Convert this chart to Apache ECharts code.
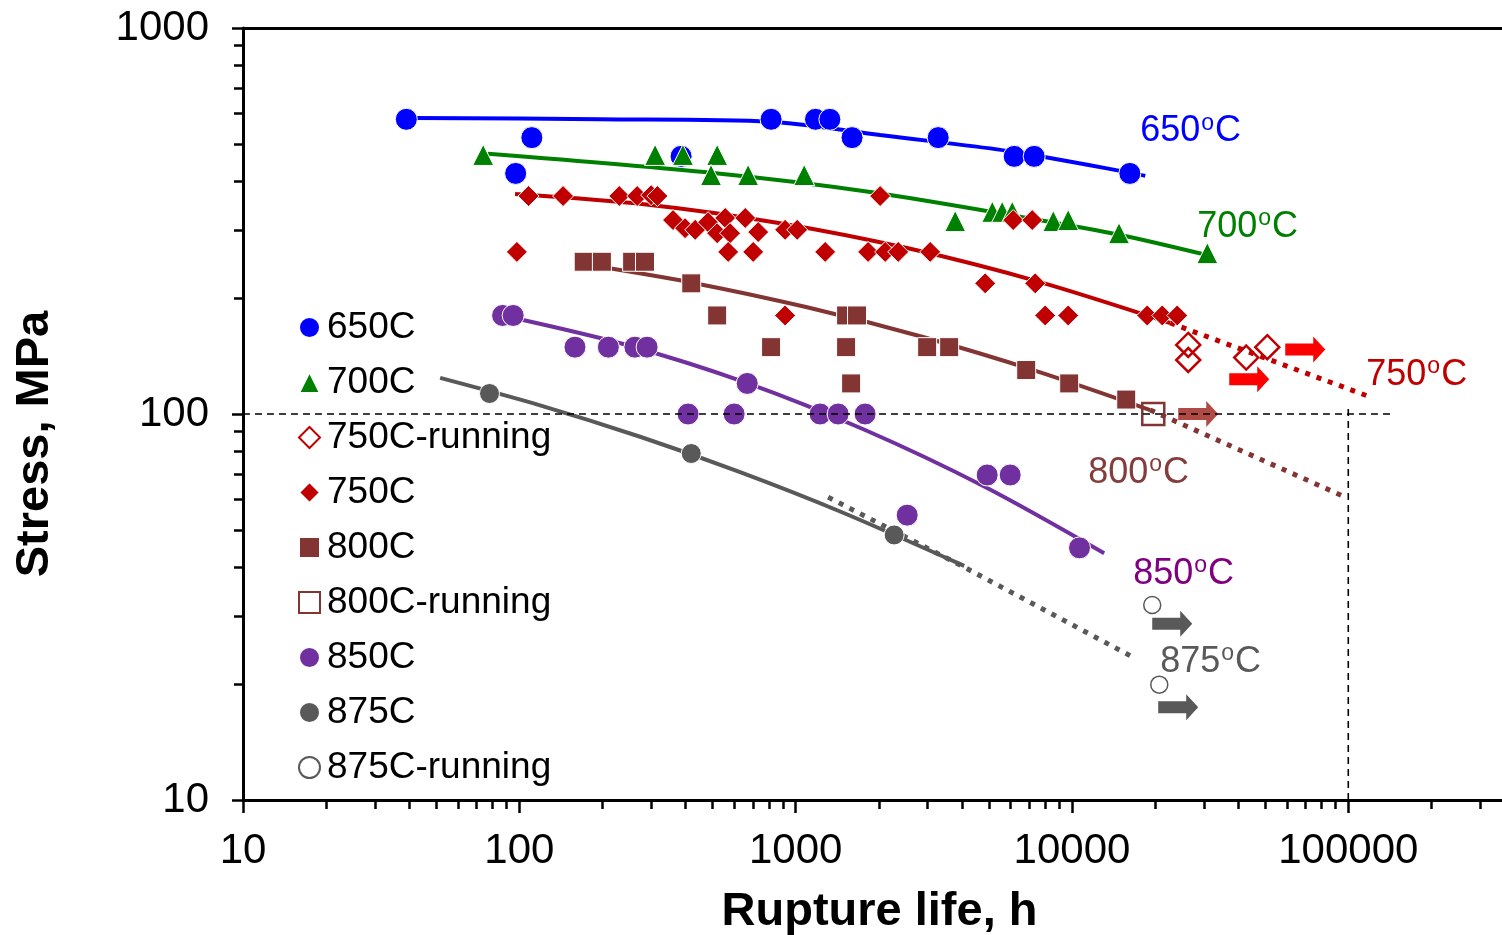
<!DOCTYPE html>
<html><head><meta charset="utf-8">
<script src="https://cdn.jsdelivr.net/npm/echarts@6/dist/echarts.min.js"></script>
<style>html,body{margin:0;padding:0;background:#fff}#c{width:1502px;height:935px}</style>
</head><body><div id="c"></div>
<script>
// ---- tick values ----
const xMajorTicks = [10, 100, 1000, 10000, 100000];
const xMinorTicks = [20,30,40,50,60,70,80,90,200,300,400,500,600,700,800,900,2000,3000,4000,5000,6000,7000,8000,9000,20000,30000,40000,50000,60000,70000,80000,90000,200000,300000];
const yMajorTicks = [10, 100, 1000];
const yMinorTicks = [20,30,40,50,60,70,80,90,200,300,400,500,600,700,800,900];

// ---- data: [rupture life h, stress MPa] ----
const d650 = [[39,580],[111,520],[97,420],[385,465],[815,580],[1180,580],[1330,580],[1600,520],[3280,520],[6180,465],[7300,465],[16200,420]];
const d700 = [[74,469],[310,469],[391,469],[520,469],[494,416],[673,416],[1074,416],[3780,316],[5150,334],[5590,334],[6080,334],[8560,316],[9690,318],[14800,294],[30900,261]];
const d750 = [[108,367],[144,367],[230,367],[267,367],[300,369],[316,367],[360,318],[398,303],[433,300],[482,314],[520,294],[556,322],[579,294],[657,322],[732,296],[916,300],[1013,300],[98,263],[570,263],[702,263],[1279,263],[1829,263],[2109,263],[2351,263],[3068,263],[916,180],[2022,367],[6128,318],[7180,318],[4853,218],[7362,218],[8001,180],[9692,180],[18720,180],[21220,180],[24040,180]];
const d750run = [[26350,151],[26350,138],[42720,140],[50910,149]];
const d800 = [[171,248],[199,248],[256,248],[285,248],[419,218],[520,180],[815,149],[1523,180],[1668,180],[1523,149],[1588,120],[2992,149],[3594,149],[6830,130],[9772,120],[15720,109]];
const d800run = [[19690,100]];
const d850 = [[87,180],[95,180],[159,149],[210,149],[262,149],[290,149],[668,120],[408,100],[599,100],[1226,100],[1425,100],[1784,100],[4934,69.5],[5976,69.5],[2533,54.7],[10650,45]];
const d875 = [[78,113],[419,79],[2273,48.6]];
const d875run = [[19520,32],[20700,19.9]];

// ---- fitted trend lines ----
const fit650 = [[41,585],[196,580],[809,572],[2024,528],[3254,507],[6124,478],[16250,422],[18420,414]];
const fit700 = [[77,472],[503,421],[1862,376],[6890,322],[14960,291],[30900,258]];
const fit750 = [[96.5,371.5],[287.5,349.1],[857,313.1],[2554,268.7],[7610,220],[22680,172.1]];
const ext750 = [[22680,172.1],[120100,110.7]];
const fit800 = [[161.8,246],[421.9,218.9],[1100,189],[2870,158.5],[7484,129],[19200,102.4]];
const ext800 = [[19200,102.4],[97500,60.9]];
const fit850 = [[88.8,179.5],[241.4,151.4],[656.6,120.8],[1784,90.9],[4853,64.7],[13080,43.6]];
const fit875 = [[51.7,124],[118.9,105.3],[273.6,87.3],[629.6,70.7],[1449,55.9],[4074,40.4]];
const ext875 = [[1311,60.9],[4074,40.1],[17080,23.2]];
const refH = [[10,100],[145600,100]];
const refV = [[100000,10],[100000,104]];

// ---- "still running" arrows ----
const arrows750 = [[69870,147],[43810,123]];
const arrows800 = [[28640,100]];
const arrows875 = [[23060,28.6],[24240,17.4]];

const FONT = "'Liberation Sans', Arial, sans-serif";
const C650='#0000FF', C700='#008000', C750='#C00000', C800='#833533', C850='#7030A0', C875='#595959';
const ARROW = 'path://M0,7 L28,7 L28,0 L40,13 L28,26 L28,19 L0,19 Z';

function sc(name, data, symbol, size, color, open, z) {
  return {
    type:'scatter', name, data, symbol, symbolSize:size, z: z||5,
    itemStyle: open ? {color:'rgba(255,255,255,0)', borderColor:color, borderWidth: open, opacity:1} :
                      {color, borderColor:'#fff', borderWidth:1, opacity:1},
    emphasis:{disabled:true}
  };
}
function ln(data, color, width, type) {
  return {type:'line', data, symbol:'none', z:2, silent:true, smooth: type==='solid'?0.3:false,
    lineStyle:{color, width, type: type==='solid' ? 'solid' : type, cap:'butt', opacity:1}};
}
function arr(data, color) {
  return {type:'scatter', data, symbol:ARROW, symbolSize:[40,26], z:4, silent:true, itemStyle:{color, opacity:1}};
}
function lab(t, s, num, color) {
  return {value:[t,s], label:{show:true, position:'right', distance:0, offset:[0,3], formatter: num+'{o|o}C', color, opacity:1,
    fontSize:36, fontFamily:FONT, rich:{o:{fontSize:23, verticalAlign:'top', color, fontFamily:FONT, padding:[0,1,16,1]}}}};
}

const chart = echarts.init(document.getElementById('c'), null, {renderer:'canvas'});
const logX = {type:'log', logBase:10, min:10, max:360000, gridIndex:0};
const logY = {type:'log', logBase:10, min:10, max:1000, gridIndex:0};
chart.setOption({
  animation:false,
  backgroundColor:'#fff',
  textStyle:{fontFamily:FONT},
  grid:{left:243, right:0, top:28, bottom:135, containLabel:false, outerBoundsMode:'none'},
  legend:{
    orient:'vertical', left:298, top:309, padding:0, itemGap:18, itemWidth:21, itemHeight:21,
    textStyle:{fontSize:37, color:'#000', fontFamily:FONT, lineHeight:37, padding:[0,0,0,2]},
    data:['650C','700C','750C-running','750C','800C','800C-running','850C','875C','875C-running'],
    selectedMode:false
  },
  graphic:[{type:'text', x:35, y:444, rotation:Math.PI/2, silent:true,
    style:{text:'Stress, MPa', fontSize:47, fontWeight:'bold', fontFamily:FONT, fill:'#000', align:'center', verticalAlign:'middle'}}],
  xAxis:[
    Object.assign({}, logX, {position:'bottom',
      axisLine:{show:true, onZero:false, lineStyle:{color:'#000', width:3}},
      axisTick:{show:true, customValues:xMajorTicks, length:13, lineStyle:{color:'#000', width:2.5}},
      axisLabel:{customValues:xMajorTicks, fontSize:42, color:'#000', margin:30, fontFamily:FONT, formatter:v=>String(Math.round(v))},
      splitLine:{show:false}, minorTick:{show:false},
      name:'Rupture life, h', nameLocation:'middle', nameGap:89,
      nameTextStyle:{fontSize:47, fontWeight:'bold', color:'#000', fontFamily:FONT, padding:[0,0,0,14]}}),
    Object.assign({}, logX, {position:'bottom',
      axisLine:{show:false, onZero:false},
      axisTick:{show:true, customValues:xMinorTicks, length:9, lineStyle:{color:'#000', width:2.5}},
      axisLabel:{show:false}, splitLine:{show:false}}),
    Object.assign({}, logX, {position:'top',
      axisLine:{show:true, onZero:false, lineStyle:{color:'#000', width:3}},
      axisTick:{show:false}, axisLabel:{show:false}, splitLine:{show:false}})
  ],
  yAxis:[
    Object.assign({}, logY, {position:'left',
      axisLine:{show:true, onZero:false, lineStyle:{color:'#000', width:3}},
      axisTick:{show:true, customValues:yMajorTicks, length:11, lineStyle:{color:'#000', width:2.5}},
      axisLabel:{customValues:yMajorTicks, fontSize:42, color:'#000', margin:34, fontFamily:FONT, formatter:v=>String(Math.round(v))},
      splitLine:{show:false}}),
    Object.assign({}, logY, {position:'left',
      axisLine:{show:false, onZero:false},
      axisTick:{show:true, customValues:yMinorTicks, length:9, lineStyle:{color:'#000', width:2.5}},
      axisLabel:{show:false}, splitLine:{show:false}})
  ],
  series:[
    ln(fit650, C650, 4, 'solid'),
    ln(fit700, C700, 4, 'solid'),
    ln(fit750, C750, 4, 'solid'),
    ln(ext750, C750, 5, [5,7]),
    ln(fit800, C800, 4, 'solid'),
    ln(ext800, C800, 5, [5,7]),
    ln(fit850, C850, 4, 'solid'),
    ln(fit875, C875, 4, 'solid'),
    ln(ext875, C875, 5, [5,7]),
    sc('650C', d650, 'circle', 22, C650, 0, 5),
    sc('700C', d700, 'triangle', 21, C700, 0, 6),
    sc('750C-running', d750run, 'diamond', 24, C750, 2.5, 7),
    sc('750C', d750, 'diamond', 21, C750, 0, 7),
    sc('800C', d800, 'rect', 19, C800, 0, 8),
    sc('800C-running', d800run, 'rect', 22, C800, 2.5, 8),
    sc('850C', d850, 'circle', 22, C850, 0, 9),
    sc('875C', d875, 'circle', 20, C875, 0, 9),
    sc('875C-running', d875run, 'circle', 17, C875, 1.5, 9),
    arr(arrows750, '#FF0000'),
    arr(arrows800, '#B04A45'),
    arr(arrows875, '#595959'),
    {type:'line', data:refH, symbol:'none', z:12, silent:true, lineStyle:{color:'#000', width:1.6, type:[7,5], opacity:1}},
    {type:'line', data:refV, symbol:'none', z:12, silent:true, lineStyle:{color:'#000', width:1.6, type:[7,5], opacity:1}},
    {type:'scatter', symbolSize:0, silent:true, z:10, itemStyle:{opacity:1}, data:[
      lab(17660,550,'650',C650), lab(28400,310.6,'700',C700), lab(116200,128.5,'750',C750),
      lab(11450,71.6,'800','#843C3C'), lab(16660,39.2,'850','#800080'), lab(20850,23.2,'875',C875)
    ]}
  ]
});
</script>
</body></html>
